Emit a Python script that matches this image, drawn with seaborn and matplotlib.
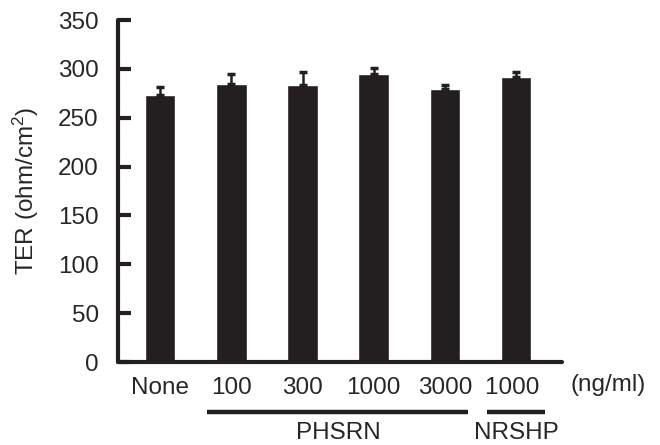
import numpy as np
import pandas as pd
import seaborn as sns
import matplotlib.pyplot as plt
from matplotlib.transforms import blended_transform_factory

# valores
grupos = ["None", "100", "300", "1000", "3000", "1000 "]
ter = [273, 284.5, 283.5, 294.5, 279, 291.5]
err = [8, 10, 13, 6.5, 5, 5]

sns.set_theme(style="white")
plt.rcParams["font.family"] = ["Liberation Sans", "DejaVu Sans"]
plt.rcParams["mathtext.default"] = "regular"

color = "#231f20"
fs = 17.5
df = pd.DataFrame({"grupo": grupos, "ter": ter})

fig = plt.figure(figsize=(6.6, 4.45), dpi=100)
ax = fig.add_axes([0.179, 0.1865, 0.673, 0.7685])

sns.barplot(data=df, x="grupo", y="ter", color=color, width=0.43,
            saturation=1, ax=ax, errorbar=None)
x = np.arange(len(grupos))
ax.errorbar(x, ter, yerr=[np.zeros(len(err)), err], fmt="none",
            ecolor=color, elinewidth=1.8, capsize=2.8, capthick=2.5)

ax.set_ylim(0, 350)
ax.set_xlim(-0.59, 5.65)
ax.set_yticks(range(0, 351, 50))
ax.tick_params(axis="y", direction="in", length=9, width=3, color=color,
               labelsize=fs, pad=14, left=True)
ax.tick_params(axis="x", length=0, labelsize=fs, pad=11)
for s in ["top", "right"]:
    ax.spines[s].set_visible(False)
for s in ["left", "bottom"]:
    ax.spines[s].set_linewidth(3)
    ax.spines[s].set_color(color)
    ax.spines[s].set_capstyle("round")
ax.set_xlabel("")
ax.set_ylabel("TER (ohm/cm$^{2}$)", fontsize=fs, labelpad=12)

trans = blended_transform_factory(ax.transData, ax.transAxes)
ax.text(6.29, -0.068, "(ng/ml)", transform=trans, ha="center", va="center",
        fontsize=fs, clip_on=False)
ax.plot([0.66, 4.33], [-0.145, -0.145], transform=trans, color=color,
        lw=3.2, clip_on=False, solid_capstyle="butt")
ax.plot([4.59, 5.41], [-0.145, -0.145], transform=trans, color=color,
        lw=3.2, clip_on=False, solid_capstyle="butt")
ax.text(2.5, -0.207, "PHSRN", transform=trans, ha="center", va="center",
        fontsize=fs, clip_on=False)
ax.text(5.0, -0.207, "NRSHP", transform=trans, ha="center", va="center",
        fontsize=fs, clip_on=False)

fig.savefig("out.png", dpi=100)
